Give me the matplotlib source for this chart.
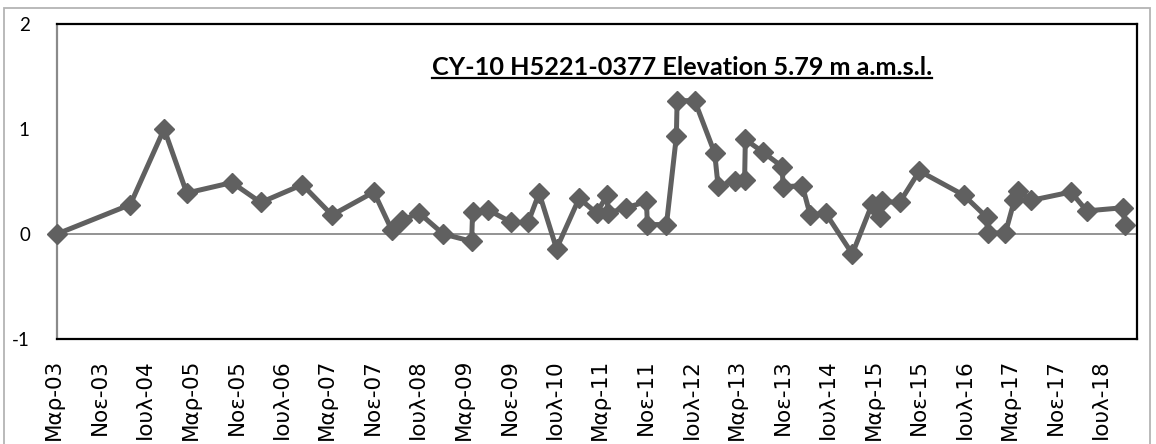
import matplotlib
matplotlib.use("Agg")
import matplotlib.pyplot as plt
import matplotlib.dates as mdates
import matplotlib.transforms as mtransforms
from matplotlib.lines import Line2D
from matplotlib.patches import Rectangle
import pandas as pd

# data
dates = ["2003-03-01", "2004-03-27", "2004-09-24", "2005-01-23", "2005-09-22",
         "2006-02-23", "2006-10-03", "2007-03-11", "2007-10-21", "2008-01-24",
         "2008-03-18", "2008-06-19", "2008-10-26", "2009-03-27", "2009-04-01",
         "2009-06-23", "2009-10-26", "2010-01-23", "2010-03-23", "2010-06-24",
         "2010-10-23", "2011-01-24", "2011-03-22", "2011-03-26", "2011-07-03",
         "2011-10-18", "2011-10-23", "2012-02-02", "2012-03-26", "2012-03-30",
         "2012-07-02", "2012-10-17", "2012-11-04", "2013-02-01", "2013-03-26",
         "2013-03-30", "2013-07-02", "2013-10-14", "2013-10-17", "2014-01-29",
         "2014-03-12", "2014-06-02", "2014-10-23", "2015-02-07", "2015-03-18",
         "2015-03-29", "2015-07-03", "2015-10-17", "2016-06-10", "2016-10-11",
         "2016-10-16", "2017-01-19", "2017-03-08", "2017-03-29", "2017-06-05",
         "2018-01-05", "2018-03-30", "2018-10-08", "2018-10-22"]
levels = [0.00, 0.28, 1.00, 0.39, 0.49, 0.30, 0.47, 0.18, 0.40, 0.04,
          0.13, 0.20, 0.00, -0.07, 0.21, 0.23, 0.11, 0.11, 0.39, -0.14,
          0.34, 0.20, 0.37, 0.20, 0.25, 0.31, 0.09, 0.09, 0.93, 1.27,
          1.27, 0.77, 0.46, 0.50, 0.51, 0.90, 0.78, 0.64, 0.45, 0.46,
          0.18, 0.20, -0.19, 0.29, 0.16, 0.31, 0.30, 0.60, 0.37, 0.16,
          0.01, 0.01, 0.32, 0.41, 0.32, 0.40, 0.22, 0.25, 0.09]
y_ticks = [-1, 0, 1, 2]
greek_months = {1: "Ιαν", 2: "Φεβ", 3: "Μαρ", 4: "Απρ", 5: "Μαϊ", 6: "Ιουν",
                7: "Ιουλ", 8: "Αυγ", 9: "Σεπ", 10: "Οκτ", 11: "Νοε", 12: "Δεκ"}
title = "CY-10 H5221-0377 Elevation 5.79 m a.m.s.l."

x = pd.to_datetime(dates)
tick_dates = pd.date_range("2003-03-01", periods=24, freq="8MS")
tick_labels = [f"{greek_months[d.month]}-{d.year % 100:02d}" for d in tick_dates]

W, H = 1156, 444
fig = plt.figure(figsize=(W / 100, H / 100), dpi=100)
ax = fig.add_axes([57 / W, 1 - 339 / H, (1137 - 57) / W, (339 - 24) / H])

grey = "#606060"
ax.axhline(0, color="#8a8a8a", lw=1.3, zorder=1)
ax.plot(x, levels, color=grey, lw=3.6, marker="D", ms=10, mfc=grey, mec=grey,
        zorder=3, clip_on=False)

ax.set_xlim(pd.Timestamp("2003-03-01"), pd.Timestamp("2018-12-24"))
ax.set_ylim(-1, 2)
ax.set_yticks(y_ticks)
ax.set_yticklabels([str(v) for v in y_ticks], family="Lato", fontsize=13.5)
ax.set_xticks(mdates.date2num(tick_dates))
ax.set_xticklabels(tick_labels, rotation=90, family="DejaVu Sans", fontsize=15.5)
ax.tick_params(axis="both", length=0)
ax.tick_params(axis="x", pad=14)
ax.tick_params(axis="y", pad=19.5)

for side in ("top", "right", "bottom"):
    ax.spines[side].set_color("black")
    ax.spines[side].set_linewidth(1.6)
ax.spines["left"].set_color("#8a8a8a")
ax.spines["left"].set_linewidth(1.6)

# outer chart border
fig.add_artist(Rectangle((4 / W, -0.05), (1150 - 4) / W, 1.05 - 8 / H,
                         transform=fig.transFigure, fill=False,
                         edgecolor="#b4b4b4", lw=1.3))

t = ax.text(0.579, (339 - 75) / 315, title, transform=ax.transAxes,
            ha="center", va="baseline", family="Lato", fontweight="bold",
            fontsize=18.2)

# label tops should sit ~20px under the plot, like the reference
fig.canvas.draw()
r = fig.canvas.get_renderer()
top = H - ax.get_xticklabels()[0].get_window_extent(r).y1
ax.tick_params(axis="x", pad=14 + (359 - top) * 72 / 100)

# nudge rotated labels slightly left (after pad, which resets transforms)
shift = mtransforms.ScaledTranslation(-3 / 100, 0, fig.dpi_scale_trans)
for lab in ax.get_xticklabels():
    lab.set_transform(lab.get_transform() + shift)

# underline the title
bb = t.get_window_extent(renderer=r)
uy = H - 78
fig.add_artist(Line2D([bb.x0 / W, bb.x1 / W], [uy / H, uy / H],
                      transform=fig.transFigure, color="black", lw=1.6))

fig.savefig("out.png", dpi=100)
